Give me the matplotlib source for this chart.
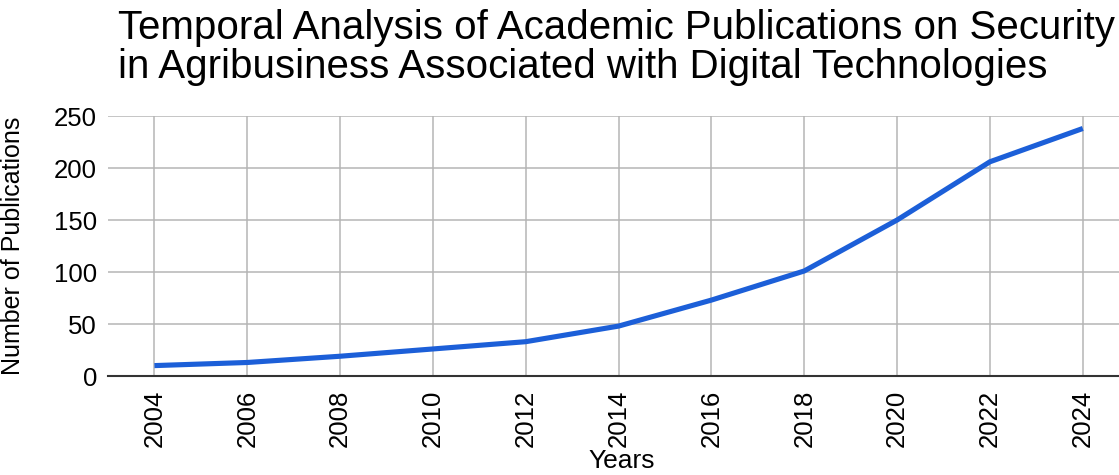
import matplotlib
matplotlib.use('Agg')
import matplotlib.pyplot as plt

plt.rcParams['font.family'] = ['Liberation Sans', 'DejaVu Sans']

# Data
years = [2004, 2006, 2008, 2010, 2012, 2014, 2016, 2018, 2020, 2022, 2024]
publications = [10, 13, 19, 26, 33, 48, 73, 101, 150, 206, 238]
y_ticks = [0, 50, 100, 150, 200, 250]

fig = plt.figure(figsize=(11.19, 4.75), dpi=100)
ax = fig.add_axes([108 / 1119, 1 - 376 / 475, 1011 / 1119, 260 / 475])

ax.plot(years, publications, color='#1c5fd8', linewidth=3.7, solid_capstyle='butt', zorder=3)

ax.set_xlim(2003.0, 2024.78)
ax.set_ylim(0, 250)
ax.set_xticks(years)
ax.set_xticklabels([str(y) for y in years], rotation=90, fontsize=18.5)
ax.set_yticks(y_ticks)
ax.set_yticklabels([str(v) for v in y_ticks], fontsize=18.5)
ax.tick_params(axis='both', length=0)
ax.tick_params(axis='x', pad=10)
ax.tick_params(axis='y', pad=8)

ax.grid(True, color='#b5b5b5', linewidth=1.1)
ax.set_axisbelow(True)
for side in ['top', 'right', 'left']:
    ax.spines[side].set_visible(False)
ax.spines['bottom'].set_color('#333333')
ax.spines['bottom'].set_linewidth(1.5)
ax.spines['bottom'].set_zorder(2)

ax.set_ylabel('Number of Publications', fontsize=18)
ax.yaxis.set_label_coords(-0.082, 0.5)
ax.set_xlabel('Years', fontsize=19)
ax.xaxis.set_label_coords(0.508, -0.28)

fig.text(118 / 1119, 1 - 9 / 475,
         'Temporal Analysis of Academic Publications on Security\n'
         'in Agribusiness Associated with Digital Technologies',
         fontsize=29, ha='left', va='top', linespacing=1.05)

fig.savefig('out.png', dpi=100)
